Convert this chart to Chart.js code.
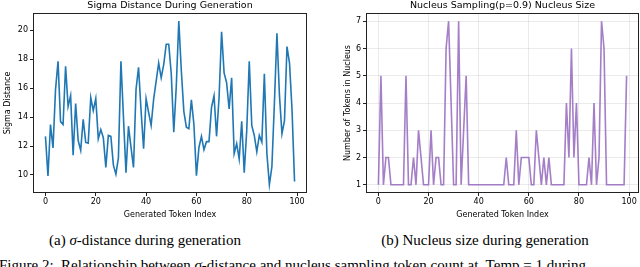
<!DOCTYPE html>
<html>
<head>
<meta charset="utf-8">
<script src="https://cdn.jsdelivr.net/npm/chart.js@4.4.1/dist/chart.umd.min.js"></script>
<style>
  html, body { margin: 0; padding: 0; background: #fff; width: 640px; height: 267px; overflow: hidden; }
  #wrapA { position: absolute; left: 0; top: 0; width: 320px; height: 224px; }
  #wrapB { position: absolute; left: 320px; top: 0; width: 320px; height: 224px; }
  .cap { position: absolute; font-family: "Liberation Serif", "DejaVu Serif", serif; font-size: 15px; color: #000; white-space: nowrap; line-height: 18px; }
  .ctr { width: 400px; text-align: center; }
</style>
</head>
<body>
<div id="wrapA"><canvas id="chartA" width="320" height="224"></canvas></div>
<div id="wrapB"><canvas id="chartB" width="320" height="224"></canvas></div>
<div class="cap ctr" id="capA" style="left:-55px; top:231px;">(a) <i>σ</i>-distance during generation</div>
<div class="cap ctr" id="capB" style="left:285px; top:231px;">(b) Nucleus size during generation</div>
<div class="cap" id="capFig" style="left:-1px; top:256px;">Figure 2:&nbsp; Relationship between <i>σ</i>-distance and nucleus sampling token count at&nbsp; Temp = 1 during</div>
<script>
// ---- data ----
const tokenIndex = [0,1,2,3,4,5,6,7,8,9,10,11,12,13,14,15,16,17,18,19,20,21,22,23,24,25,26,27,28,29,30,31,32,33,34,35,36,37,38,39,40,41,42,43,44,45,46,47,48,49,50,51,52,53,54,55,56,57,58,59,60,61,62,63,64,65,66,67,68,69,70,71,72,73,74,75,76,77,78,79,80,81,82,83,84,85,86,87,88,89,90,91,92,93,94,95,96,97,98,99];
const sigmaDistance = [
  12.67, 9.93, 13.49, 11.87, 15.9, 17.86, 13.69, 13.49, 17.52, 14.74,
  15.49, 11.37, 14.94, 12.39, 11.7, 13.85, 12.25, 12.2, 15.35, 14.44,
  15.28, 12.5, 13.14, 12.57, 10.52, 12.73, 12.67, 10.68, 10.05, 11.2,
  17.86, 14.0, 10.16, 13.37, 11.9, 10.52, 15.92, 17.45, 14.44, 11.82,
  15.28, 14.33, 13.42, 15.24, 16.49, 17.74, 16.72, 17.63, 19.04, 19.04,
  17.0, 12.96, 16.15, 20.64, 17.2, 14.4, 13.3, 13.2, 15.2, 13.5,
  9.95, 11.9, 12.67, 11.75, 12.3, 12.3, 14.67, 15.47, 12.67, 15.35,
  19.9, 17.06, 16.38, 14.56, 16.72, 11.48, 12.16, 11.1, 13.71, 10.16,
  13.08, 17.86, 13.42, 12.73, 11.6, 12.73, 12.28, 16.99, 11.5, 9.32,
  10.57, 15.0, 19.8, 15.5, 12.85, 13.76, 18.88, 17.74, 14.5, 9.55
];
const nucleusSize = [
  1, 5, 1, 2, 2, 1, 1, 1, 1, 1,
  1, 5, 1, 1, 2, 1, 3, 2, 1, 1,
  1, 3, 1, 2, 2, 1, 1, 6, 7, 4,
  1, 1, 7, 1, 3, 5, 1, 1, 1, 1,
  1, 1, 1, 1, 1, 1, 1, 1, 1, 1,
  1, 2, 1, 1, 1, 3, 1, 2, 2, 2,
  2, 1, 1, 3, 2, 1, 2, 1, 2, 1,
  1, 1, 1, 1, 1, 4, 2, 6, 2, 4,
  1, 1, 1, 1, 2, 1, 4, 1, 2, 7,
  6, 1, 1, 1, 1, 1, 1, 1, 1, 5
];
const xTicks = [0, 20, 40, 60, 80, 100];
const sigmaTicks = [10, 12, 14, 16, 18, 20];
const nucleusTicks = [1, 2, 3, 4, 5, 6, 7];

const FONT = "DejaVu Sans";

const frame = {
  id: 'frame',
  afterDatasetsDraw(chart) {
    const a = chart.chartArea, c = chart.ctx;
    c.save();
    c.strokeStyle = '#222';
    c.lineWidth = 1;
    c.strokeRect(Math.round(a.left) + 0.5, Math.round(a.top) + 0.5, Math.round(a.right - a.left) - 1, Math.round(a.bottom - a.top) - 1);
    c.restore();
  }
};

function makeChart(id, values, color, yTicks, yMin, yMax, title, yTitle, yWidth, padRight, yTitlePad, grid) {
  const pts = tokenIndex.map((x, i) => ({ x: x, y: values[i] }));
  return new Chart(document.getElementById(id), {
    type: 'line',
    data: { datasets: [{ data: pts, borderColor: color, borderWidth: 1.6, pointRadius: 0, tension: 0, fill: false }] },
    options: {
      responsive: false, animation: false, devicePixelRatio: 1,
      layout: { padding: { left: 0, right: padRight, top: 0, bottom: 0 } },
      plugins: {
        legend: { display: false }, tooltip: { enabled: false },
        title: { display: true, text: title, fullSize: false, color: '#000', font: { family: FONT, size: 9.5, weight: 'normal' }, padding: { top: 0, bottom: 1.6 } }
      },
      scales: {
        x: {
          type: 'linear', min: -4.95, max: 103.95,
          afterBuildTicks(s) { s.ticks = xTicks.map(v => ({ value: v })); },
          afterFit(s) { s.height = 31; },
          grid: { display: true, drawOnChartArea: grid, color: grid ? 'rgba(0,0,0,0.08)' : '#222', tickColor: '#222', tickLength: 3, lineWidth: 1 },
          border: { display: false },
          ticks: { color: '#000', font: { family: FONT, size: 8 }, padding: 1, maxRotation: 0, autoSkip: false },
          title: { display: true, text: 'Generated Token Index', color: '#000', font: { family: FONT, size: 8 }, padding: { top: 0, bottom: 4 } }
        },
        y: {
          type: 'linear', min: yMin, max: yMax,
          afterBuildTicks(s) { s.ticks = yTicks.map(v => ({ value: v })); },
          afterFit(s) { s.width = yWidth; },
          grid: { display: true, drawOnChartArea: grid, color: grid ? 'rgba(0,0,0,0.08)' : '#222', tickColor: '#222', tickLength: 3, lineWidth: 1 },
          border: { display: false },
          ticks: { color: '#000', font: { family: FONT, size: 8 }, padding: 2, autoSkip: false },
          title: { display: true, text: yTitle, color: '#000', font: { family: FONT, size: 8 }, padding: { top: yTitlePad, bottom: 0 } }
        }
      }
    },
    plugins: [frame]
  });
}

makeChart('chartA', sigmaDistance, '#1f77b4', sigmaTicks, 8.75, 21.2,
  'Sigma Distance During Generation', 'Sigma Distance', 33, 13, 3, false);
makeChart('chartB', nucleusSize, 'rgba(148,103,189,0.85)', nucleusTicks, 0.7, 7.3,
  'Nucleus Sampling(p=0.9) Nucleus Size', 'Number of Tokens in Nucleus', 46, 1, 23, true);
</script>
</body>
</html>
